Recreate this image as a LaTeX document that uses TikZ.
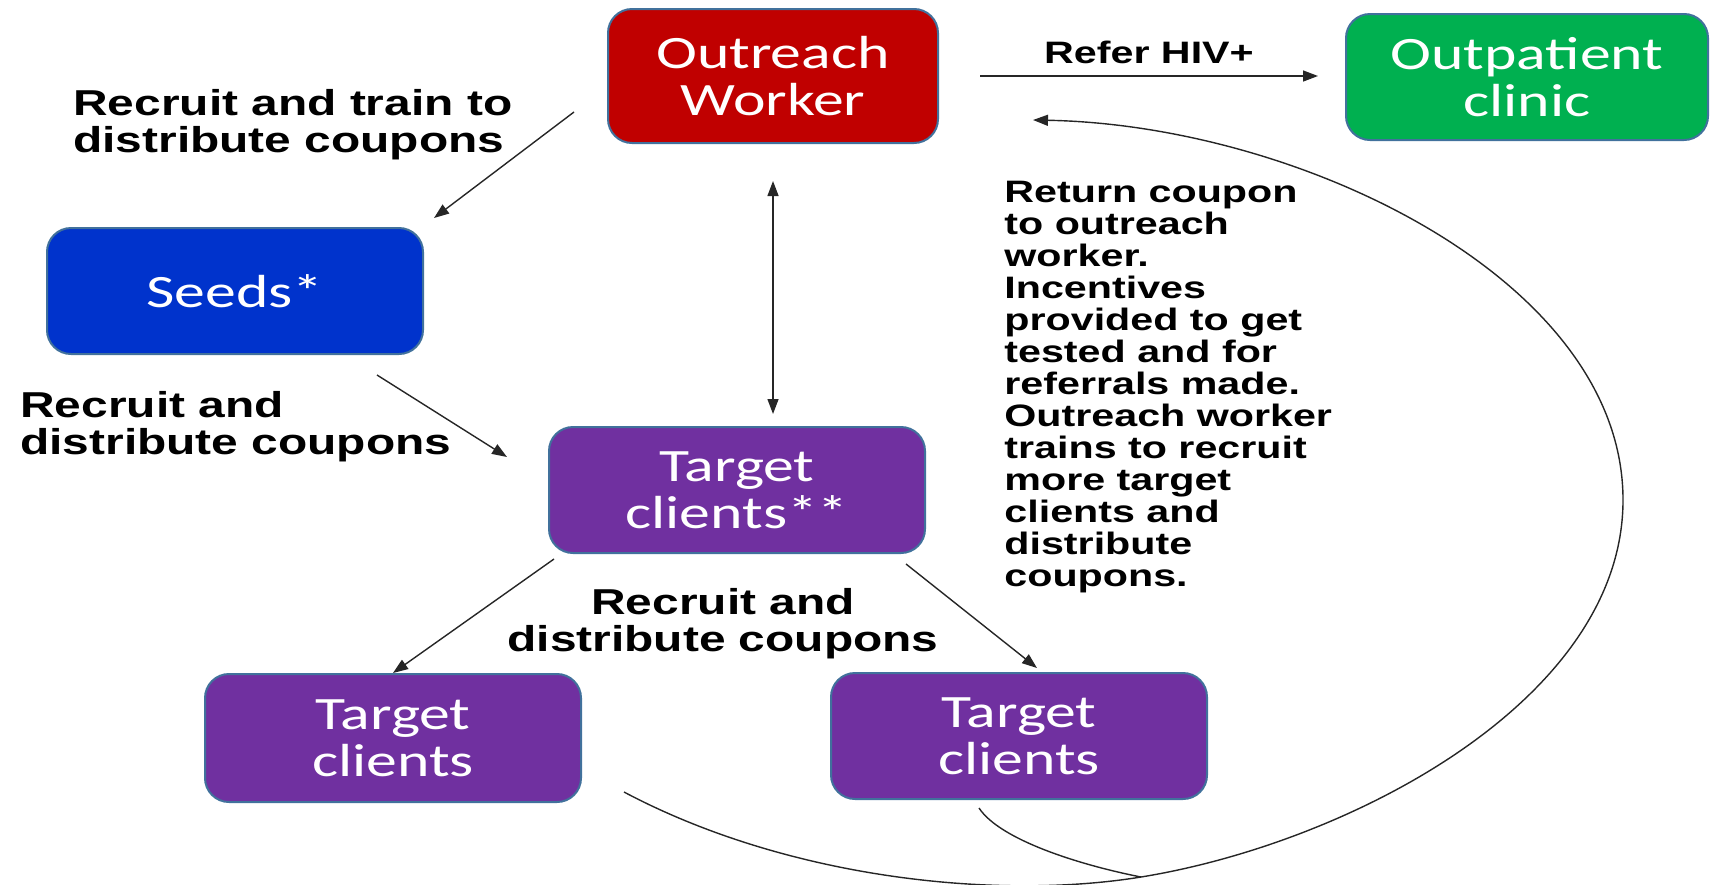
\documentclass[tikz,border=0pt]{standalone}
\usepackage{fontspec}
\newfontfamily\boxfont[FakeStretch=1.33]{Carlito}
\newfontfamily\notefont[FakeStretch=1.33]{Liberation Sans}
\usetikzlibrary{arrows.meta, calc}
\definecolor{owred}{HTML}{C00000}
\definecolor{opgreen}{HTML}{00B050}
\definecolor{seedblue}{HTML}{0033CC}
\definecolor{tpurple}{HTML}{7030A0}
\definecolor{edgeblue}{HTML}{41719C}

\begin{document}
\begin{tikzpicture}[
  x=0.5pt, y=-0.5pt,
  >={Triangle[length=7.5pt, width=5.5pt]},
  every node/.style={inner sep=0pt},
  box/.style={rounded corners=12pt, draw=edgeblue, line width=1pt, text=white, align=center,
              minimum width=188pt, minimum height=63pt, font=\boxfont\fontsize{23.2}{23.5}\selectfont},
  note/.style={font=\notefont\bfseries\fontsize{18}{18.5}\selectfont, align=left},
  small/.style={font=\notefont\bfseries\fontsize{15.5}{16}\selectfont, align=left},
  flow/.style={->, line width=0.7pt, black!85},
  link/.style={line width=0.7pt, black!85},
]
  \useasboundingbox (0,0) rectangle (1711,884);

  % boxes
  \node[box, fill=owred, minimum width=165pt, minimum height=67pt] (ow) at (773,76) {Outreach\\Worker};
  \node[box, fill=opgreen, minimum width=181pt] (op) at (1527,77) {Outpatient\\clinic};
  \node[box, fill=seedblue] (seeds) at (235,291) {Seeds*};
  \node[box, fill=tpurple] (tc) at (737,490) {Target\\clients**};
  \node[box, fill=tpurple, minimum height=64pt] (tl) at (393,738) {Target\\clients};
  \node[box, fill=tpurple] (tr) at (1019,736) {Target\\clients};

  % labels
  \node[note, anchor=north west] (lbtrain) at (73,89) {Recruit and train to\\distribute coupons};
  \node[small, anchor=north] (lbrefer) at (1149,41) {Refer HIV+};
  \node[note, anchor=north west] (lbseeds) at (20,391) {Recruit and\\distribute coupons};
  \node[note, align=center, anchor=north] (lbtarget) at (723,588) {Recruit and\\distribute coupons};
  \node[small, anchor=north west] (lbreturn) at (1004,181) {Return coupon\\to outreach\\worker.\\Incentives\\provided to get\\tested and for\\referrals made.\\Outreach worker\\trains to recruit\\more target\\clients and\\distribute\\coupons.};

  % straight arrows
  \draw[flow, shorten <=20.5pt, shorten >=13.5pt] (ow.east) -- (ow.east -| op.west);
  \draw[flow] ($(ow.west)+(-33,36)$) -- ($(seeds.north east)+(10,-9)$);
  \draw[flow, <->, shorten <=18.5pt, shorten >=6pt] (ow.south) -- (ow.south |- tc.north);
  \draw[flow] ($(seeds.south east)+(-47,20)$) -- ($(tc.west)+(-41,-33)$);
  \draw[flow] ($(tc.south west)+(6,5)$) -- (tl.north);
  \draw[flow] ($(tc.south east)+(-20,10)$) -- ($(tr.north)+(18,-4)$);

  % loop back to the outreach worker
  \coordinate (join) at (1141,877);
  \draw[flow] ($(tl.south east)+(42,-11)$) .. controls (790,880) and (1000,900) .. (join)
        .. controls (1350,843) and (1623,700) .. (1623,500)
        .. controls (1623,280) and (1300,125) .. ($(ow.east)+(94,44)$);
  \draw[link] ($(tr.south)+(-40,8)$) .. controls (1000,840) and (1080,865) .. (join);
\end{tikzpicture}
\end{document}
